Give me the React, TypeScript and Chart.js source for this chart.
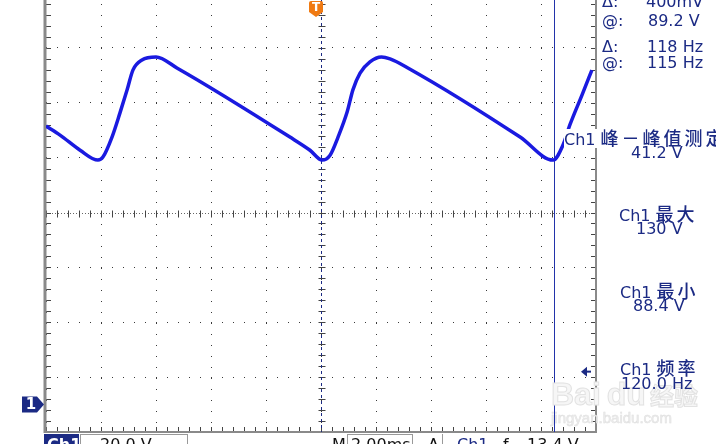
import { useEffect, useRef } from "react";
import { Chart, registerables } from "chart.js";

Chart.register(...registerables);

// ---- data (time in ms, voltage in V) ----
const timeMs = [
  -10.0, -9.49, -8.76, -8.11, -7.93, -7.6, -7.31, -7.05, -6.84, -6.51, -6.0, -5.24,
  -1.13, -0.4, 0.04, 0.33, 0.62, 0.95, 1.16, 1.42, 1.78, 2.2, 2.51, 3.16,
  7.24, 8.44, 8.8, 9.05, 9.49, 9.85,
];
const volts = [
  101.5, 98.2, 92.7, 89.1, 90.2, 97.5, 106.3, 114.7, 121.9, 125.6, 126.7, 122.7,
  97.5, 92.7, 89.1, 90.9, 97.5, 106.6, 114.7, 120.8, 124.9, 126.7, 126.0, 122.7,
  97.5, 89.1, 94.6, 101.9, 112.8, 121.9,
];

const xMin = -10;
const xMax = 10;
const xStep = 2; // 2.00 ms/div
const yMin = -10;
const yMax = 150;
const yStep = 20; // 20.0 V/div
const cursorTimes = [0, 8.47];
const groundLevel = 0;
const triggerMarkerLevel = 12;
const triggerTime = 0;

const NAVY = "#1b2a84";
const TRACE = "#1a1ae0";

const graticule = {
  id: "graticule",
  beforeDatasetsDraw(chart: any) {
    const { ctx, chartArea: a, scales } = chart;
    const x = scales.x;
    const y = scales.y;
    const line = (x1: number, y1: number, x2: number, y2: number) => {
      ctx.beginPath();
      ctx.moveTo(x1, y1);
      ctx.lineTo(x2, y2);
      ctx.stroke();
    };
    ctx.save();
    ctx.strokeStyle = "#444";
    ctx.lineWidth = 1;
    const cx = Math.round(x.getPixelForValue((xMin + xMax) / 2)) + 0.5;
    const cy = Math.round(y.getPixelForValue((yMin + yMax) / 2)) + 0.5;
    ctx.setLineDash([1, 2]);
    ctx.strokeStyle = "#666";
    line(a.left, cy, a.right, cy);
    ctx.setLineDash([]);
    ctx.strokeStyle = "#444";
    for (let v = xMin; v <= xMax + 1e-9; v += xStep / 5) {
      const px = Math.round(x.getPixelForValue(v)) + 0.5;
      line(px, cy - 3, px, cy + 4);
      line(px, a.bottom, px, a.bottom - 5);
    }
    for (let v = yMin; v <= yMax + 1e-9; v += yStep / 5) {
      const py = Math.round(y.getPixelForValue(v)) + 0.5;
      line(cx - 3, py, cx + 4, py);
      line(a.left, py, a.left + 5, py);
      line(a.right, py, a.right - 5, py);
    }
    ctx.strokeStyle = "#8a8a8a";
    ctx.lineWidth = 3;
    line(a.left - 1, a.top, a.left - 1, a.bottom + 1);
    ctx.lineWidth = 2;
    line(a.right, a.top, a.right, a.bottom + 1);
    line(a.left, a.bottom, a.right, a.bottom);

    ctx.lineWidth = 1;
    ctx.strokeStyle = NAVY;
    ctx.setLineDash([3, 3]);
    const c0 = Math.round(x.getPixelForValue(cursorTimes[0])) + 0.5;
    line(c0, a.top, c0, a.bottom);
    ctx.setLineDash([]);
    ctx.strokeStyle = "#2233aa";
    const c1 = Math.round(x.getPixelForValue(cursorTimes[1])) + 0.5;
    line(c1, 0, c1, a.bottom);
    ctx.restore();
  },
  afterDatasetsDraw(chart: any) {
    const { ctx, chartArea: a, scales } = chart;
    const x = scales.x;
    const y = scales.y;
    ctx.save();
    const gy = y.getPixelForValue(groundLevel);
    const gx = a.left - 2;
    ctx.fillStyle = NAVY;
    ctx.beginPath();
    ctx.moveTo(gx - 22, gy - 8);
    ctx.lineTo(gx - 7, gy - 8);
    ctx.lineTo(gx, gy);
    ctx.lineTo(gx - 7, gy + 8);
    ctx.lineTo(gx - 22, gy + 8);
    ctx.closePath();
    ctx.fill();
    ctx.fillStyle = "#fff";
    ctx.font = 'bold 15px "DejaVu Sans"';
    ctx.textAlign = "center";
    ctx.textBaseline = "middle";
    ctx.fillText("1", gx - 13, gy + 1);
    const tx = x.getPixelForValue(triggerTime) - 5;
    const ty = 21;
    ctx.fillStyle = "#f07a12";
    ctx.beginPath();
    ctx.moveTo(tx - 7, ty + 2);
    ctx.quadraticCurveTo(tx - 7, ty, tx - 5, ty);
    ctx.lineTo(tx + 5, ty);
    ctx.quadraticCurveTo(tx + 7, ty, tx + 7, ty + 2);
    ctx.lineTo(tx + 7, ty + 11);
    ctx.lineTo(tx, ty + 16);
    ctx.lineTo(tx - 7, ty + 11);
    ctx.closePath();
    ctx.fill();
    ctx.fillStyle = "#fff";
    ctx.font = 'bold 12px "DejaVu Sans"';
    ctx.fillText("T", tx, ty + 7);
    const ly = y.getPixelForValue(triggerMarkerLevel);
    const lx = a.right - 15;
    ctx.fillStyle = NAVY;
    ctx.beginPath();
    ctx.moveTo(lx, ly);
    ctx.lineTo(lx + 6, ly - 5);
    ctx.lineTo(lx + 6, ly + 5);
    ctx.closePath();
    ctx.fill();
    ctx.fillRect(lx + 5, ly - 1, 5, 2);
    ctx.restore();
  },
};

const txt = (left: number, baseline: number, extra: any = {}) => ({
  position: "absolute" as const,
  left,
  top: baseline - 13.5,
  font: '16px "DejaVu Sans"',
  lineHeight: "16px",
  color: NAVY,
  whiteSpace: "nowrap" as const,
  ...extra,
});

const cjk = { fontFamily: '"Noto Sans CJK SC"', fontSize: 18, letterSpacing: 3, fontWeight: 500 };

export default function App() {
  const ref = useRef<HTMLCanvasElement>(null);
  useEffect(() => {
    if (!ref.current) return;
    const chart = new Chart(ref.current, {
      type: "line",
      data: {
        datasets: [
          {
            data: timeMs.map((t, i) => ({ x: t, y: volts[i] })),
            borderColor: TRACE,
            borderWidth: 3.5,
            pointRadius: 0,
            cubicInterpolationMode: "monotone",
          },
        ],
      },
      options: {
        animation: false,
        responsive: false,
        maintainAspectRatio: false,
        layout: { padding: { left: 46, right: 120, top: 13, bottom: 12 } },
        plugins: { legend: { display: false }, tooltip: { enabled: false } },
        scales: {
          x: {
            type: "linear",
            min: xMin,
            max: xMax,
            ticks: { display: false, stepSize: xStep },
            grid: { color: "#3a3a3a", lineWidth: 1, drawTicks: false },
            border: { display: false, dash: [1, 10] },
          },
          y: {
            type: "linear",
            min: yMin,
            max: yMax,
            ticks: { display: false, stepSize: yStep },
            grid: { color: "#3a3a3a", lineWidth: 1, drawTicks: false },
            border: { display: false, dash: [1, 10] },
          },
        },
      },
      plugins: [graticule],
    });
    return () => chart.destroy();
  }, []);

  return (
    <div
      style={{
        position: "absolute",
        left: 0,
        top: 0,
        width: 716,
        height: 444,
        overflow: "hidden",
        background: "#fff",
      }}
    >
      <canvas
        ref={ref}
        width={716}
        height={464}
        style={{ position: "absolute", left: 0, top: -20, width: 716, height: 464 }}
      />
      {/* watermark */}
      <div style={{ position: "absolute", left: 551, top: 376, font: 'bold 32px "Liberation Sans"', color: "#f6f6f6", WebkitTextStroke: "1px #e2e2e2", whiteSpace: "nowrap" }}>
        Bai<span style={{ marginLeft: 6 }}>du</span>
        <span style={{ font: 'bold 24px "Noto Sans CJK SC"', marginLeft: 4 }}>经验</span>
      </div>
      <div style={{ position: "absolute", left: 551, top: 409, font: '15px "Liberation Sans"', color: "#ececec", WebkitTextStroke: "0.5px #e0e0e0", whiteSpace: "nowrap" }}>
        jingyan.baidu.com
      </div>

      {/* cursor readouts */}
      <div style={txt(602, 7)}>Δ:</div>
      <div style={txt(646, 7)}>400mV</div>
      <div style={txt(602, 26)}>@:</div>
      <div style={txt(648, 26)}>89.2 V</div>
      <div style={txt(602, 52)}>Δ:</div>
      <div style={txt(647, 52)}>118 Hz</div>
      <div style={txt(602, 68)}>@:</div>
      <div style={txt(647, 68)}>115 Hz</div>

      {/* measurements */}
      <div style={txt(564, 142, { background: "#fff" })}>
        Ch1 <span style={cjk}>峰－峰值测定</span>
      </div>
      <div style={txt(631, 158)}>41.2 V</div>
      <div style={txt(619, 218)}>
        Ch1 <span style={cjk}>最大</span>
      </div>
      <div style={txt(636, 234)}>130 V</div>
      <div style={txt(620, 295)}>
        Ch1 <span style={cjk}>最小</span>
      </div>
      <div style={txt(633, 311)}>88.4 V</div>
      <div style={txt(620, 372)}>
        Ch1 <span style={cjk}>频率</span>
      </div>
      <div style={txt(621, 389)}>120.0 Hz</div>

      {/* bottom status bar */}
      <div style={{ position: "absolute", left: 44, top: 434, width: 35, height: 16, background: NAVY }} />
      <div style={txt(47, 450, { color: "#fff", fontWeight: "bold" })}>Ch1</div>
      <div style={{ position: "absolute", left: 80, top: 434, width: 106, height: 16, border: "1px solid #999" }} />
      <div style={txt(100, 450, { color: "#111" })}>20.0 V</div>
      <div style={txt(332, 450, { color: "#111" })}>M</div>
      <div style={{ position: "absolute", left: 347, top: 434, width: 64, height: 16, border: "1px solid #999" }} />
      <div style={txt(351, 450, { color: "#111" })}>2.00ms</div>
      <div style={txt(428, 450, { color: "#111" })}>A</div>
      <div style={{ position: "absolute", left: 442, top: 434, width: 1, height: 12, background: "#999" }} />
      <div style={txt(457, 450)}>Ch1</div>
      <div style={txt(503, 450, { color: "#111" })}>ƒ</div>
      <div style={txt(527, 450, { color: "#111" })}>13.4 V</div>
    </div>
  );
}
